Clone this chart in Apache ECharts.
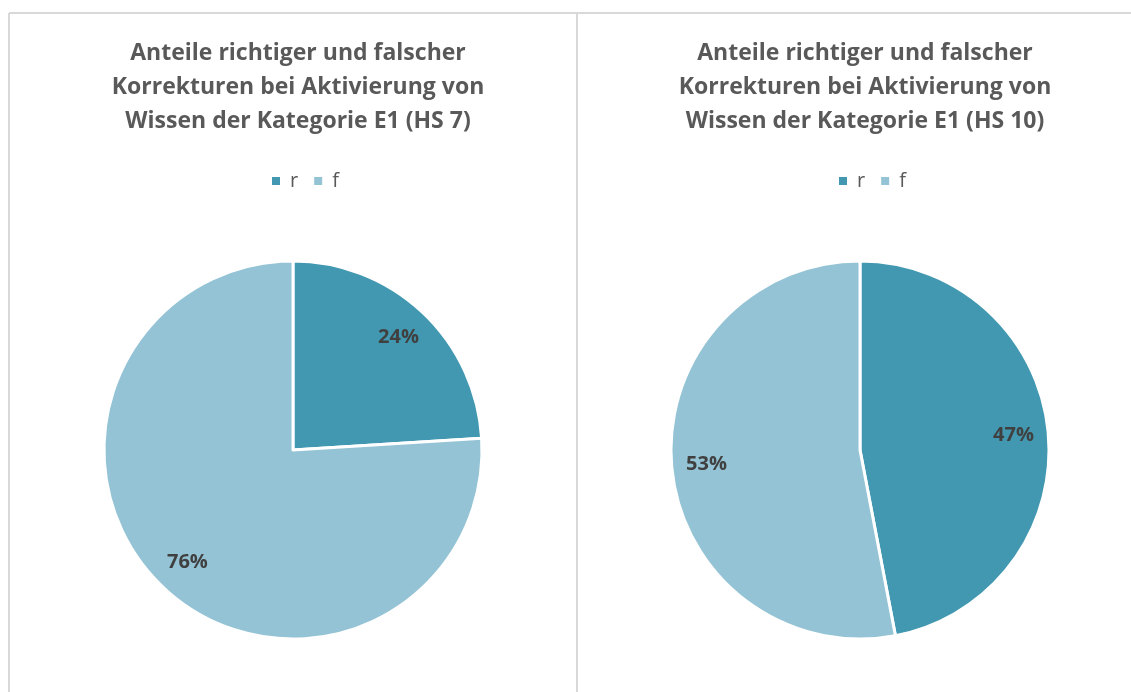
<!DOCTYPE html>
<html>
<head>
<meta charset="utf-8">
<script src="https://cdn.jsdelivr.net/npm/echarts@6/dist/echarts.min.js"></script>
<style>
  html, body { margin: 0; padding: 0; background: #fff; }
  #chart { width: 1131px; height: 692px; }
</style>
</head>
<body>
<div id="chart"></div>
<script>
// data
const categories = ['r', 'f'];
const titles = [
  'Anteile richtiger und falscher\nKorrekturen bei Aktivierung von\nWissen der Kategorie E1 (HS 7)',
  'Anteile richtiger und falscher\nKorrekturen bei Aktivierung von\nWissen der Kategorie E1 (HS 10)'
];
const valuesHS7 = [24, 76];
const valuesHS10 = [47, 53];

const colors = ['#4198b0', '#93c3d4'];
const font = 'Open Sans';
const centersX = [293, 860];
const R = 189;

let chart = echarts.init(document.getElementById('chart'));

function toData(vals){
  return categories.map((c, i) => ({ name: c, value: vals[i] }));
}

let series = [];
[valuesHS7, valuesHS10].forEach((vals, k) => {
  // visible pie
  series.push({
    type: 'pie',
    center: [centersX[k], 450],
    radius: [0, R],
    startAngle: 90,
    clockwise: true,
    silent: true,
    label: { show: false },
    labelLine: { show: false },
    itemStyle: { borderColor: '#fff', borderWidth: 3 },
    data: toData(vals)
  });
  // transparent ring only used to place the labels further out
  series.push({
    type: 'pie',
    center: [centersX[k], 450],
    radius: [R * 0.6, R],
    startAngle: 90,
    clockwise: true,
    silent: true,
    itemStyle: { color: 'rgba(0,0,0,0)' },
    label: {
      show: true,
      position: 'inside',
      formatter: '{c}%',
      color: '#404040',
      fontFamily: font,
      fontWeight: 'bold',
      fontSize: 20
    },
    labelLine: { show: false },
    data: toData(vals)
  });
});

chart.setOption({
  color: colors,
  animation: false,
  title: titles.map((t, k) => ({
    text: t,
    left: centersX[k],
    top: 31,
    textAlign: 'center',
    textStyle: {
      fontFamily: font,
      fontSize: 23,
      lineHeight: 34,
      fontWeight: 'bold',
      color: '#595959'
    }
  })),
  legend: centersX.map((cx, k) => ({
    data: categories,
    left: cx - 28,
    top: 166,
    itemWidth: 10,
    itemHeight: 10,
    itemGap: 14,
    icon: 'rect',
    selectedMode: false,
    textStyle: { fontFamily: font, fontSize: 20, color: '#595959', padding: [0, 0, 0, 4] }
  })),
  graphic: [
    { type: 'line', shape: { x1: 9, y1: 13, x2: 1131, y2: 13 }, style: { stroke: '#d9d9d9', lineWidth: 2 } },
    { type: 'line', shape: { x1: 9, y1: 13, x2: 9, y2: 692 }, style: { stroke: '#d9d9d9', lineWidth: 2 } },
    { type: 'line', shape: { x1: 577, y1: 13, x2: 577, y2: 692 }, style: { stroke: '#d9d9d9', lineWidth: 2 } }
  ],
  series: series
});
</script>
</body>
</html>
